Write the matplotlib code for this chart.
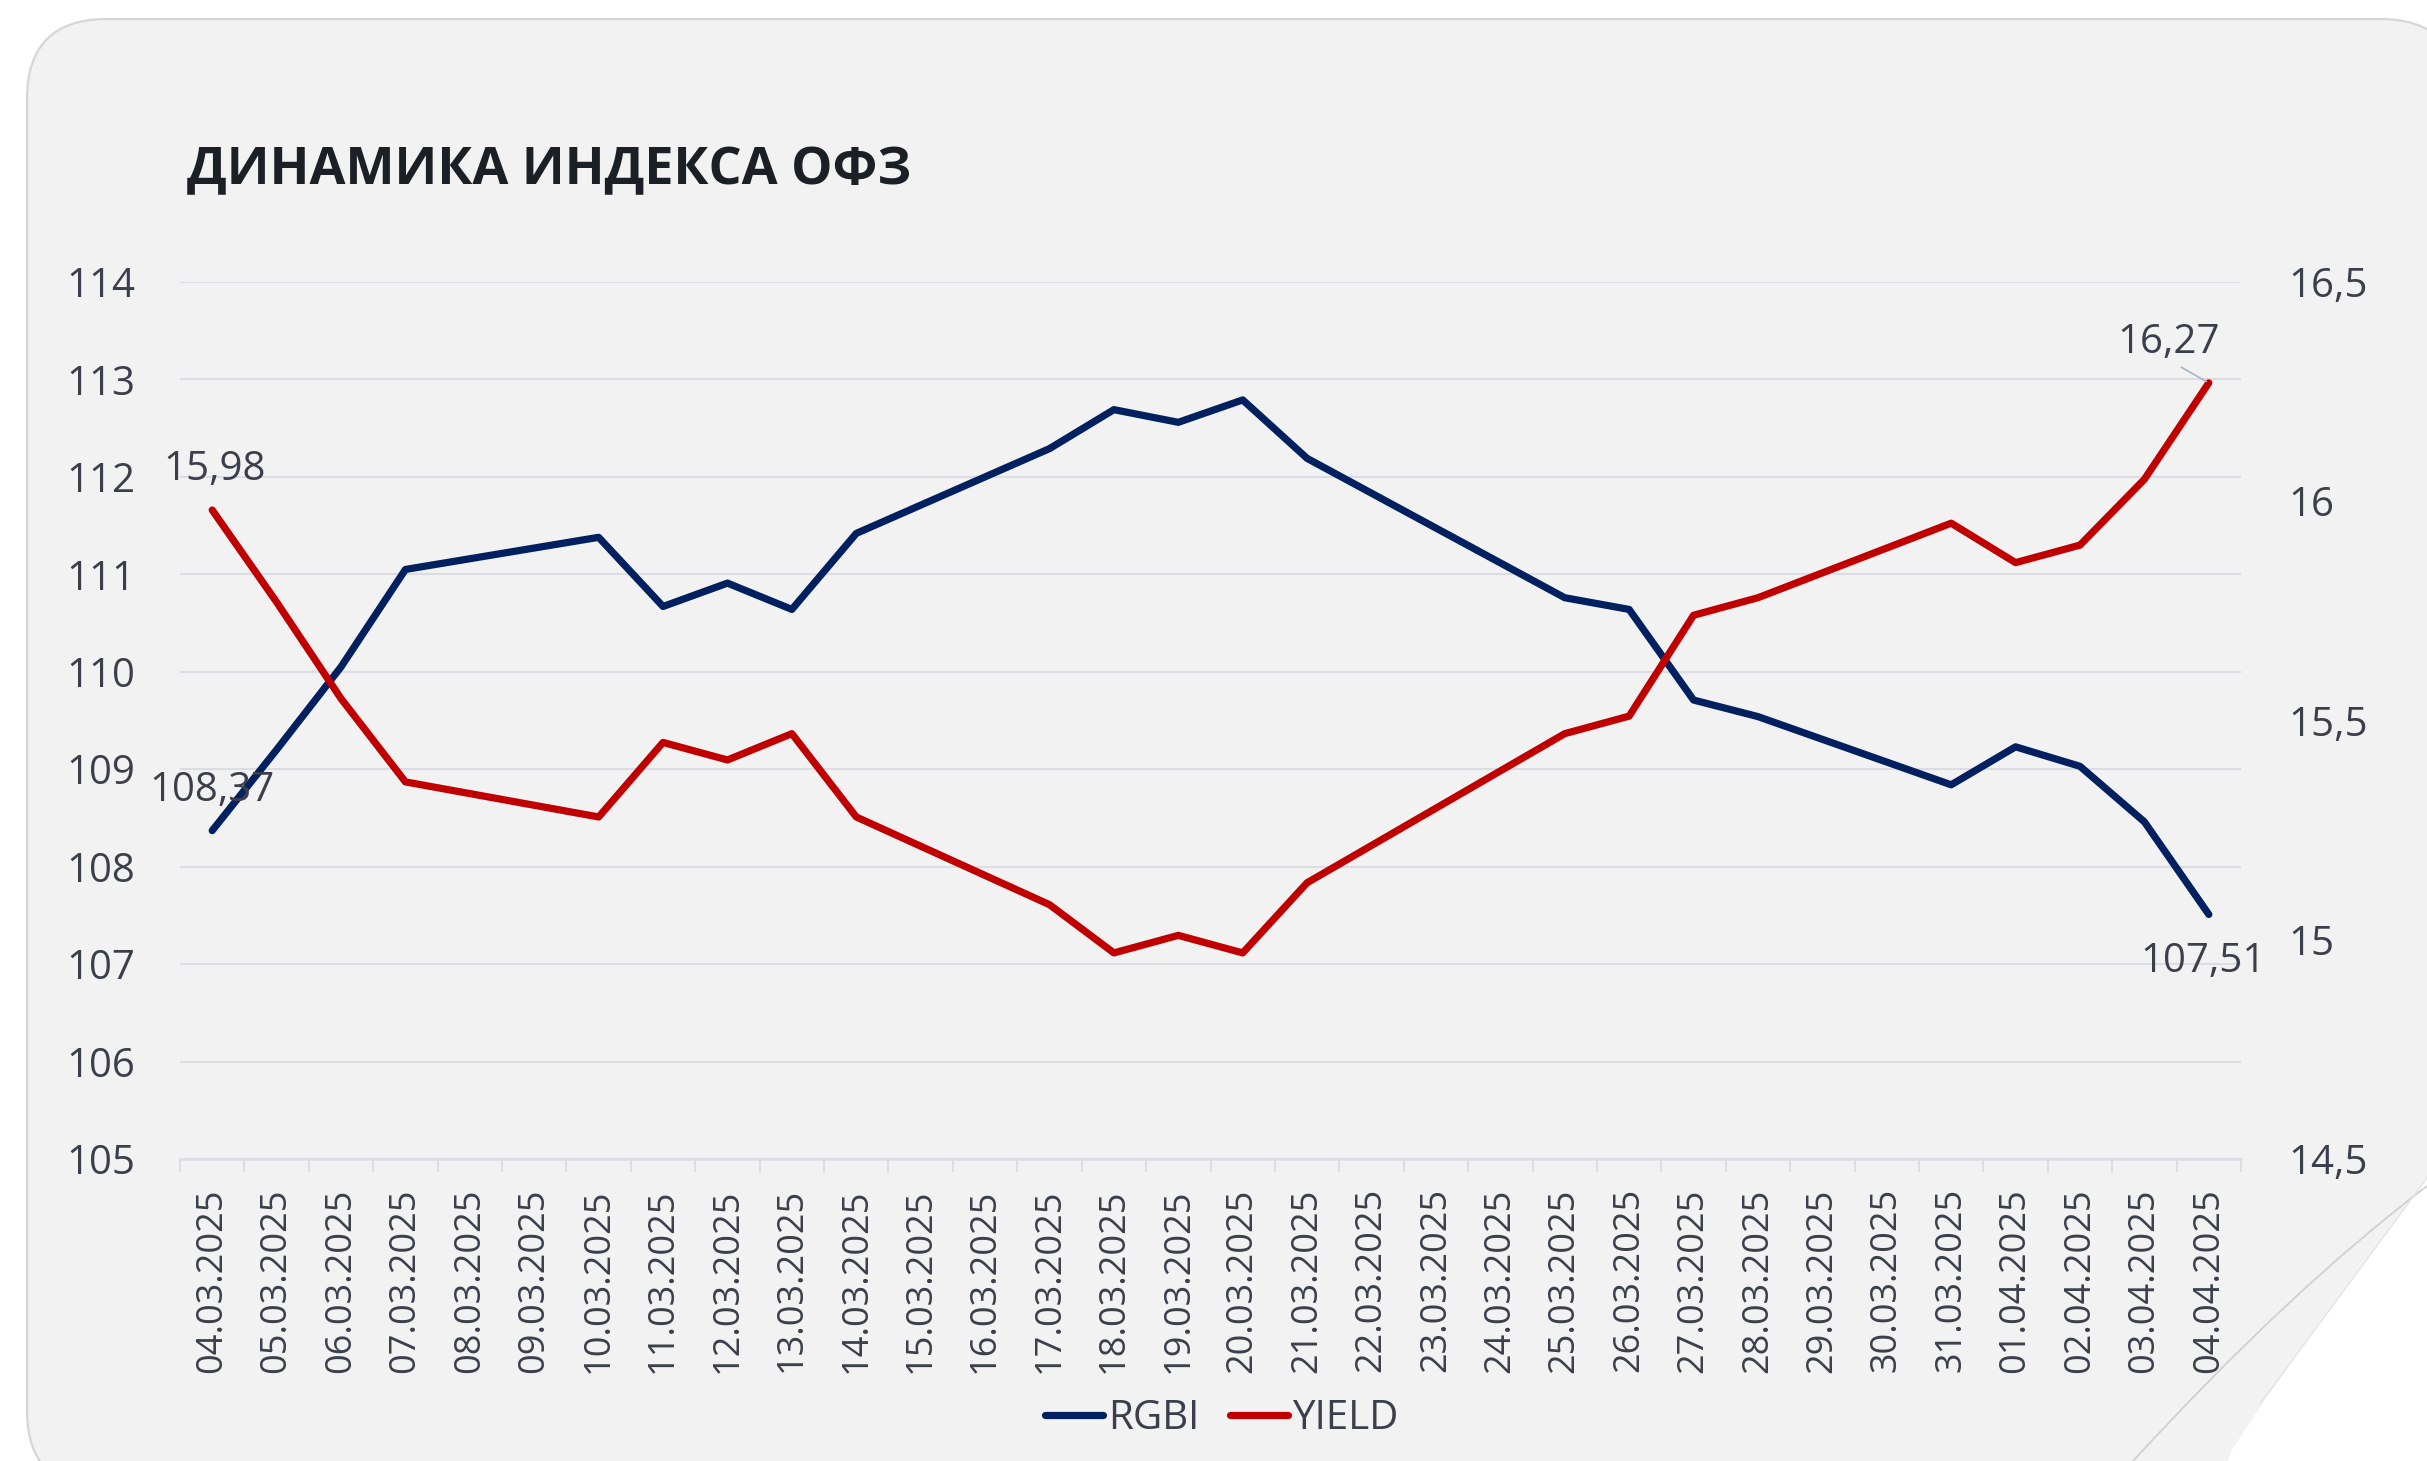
import matplotlib
matplotlib.use("Agg")
import matplotlib.pyplot as plt
from matplotlib.patches import FancyBboxPatch, Polygon, PathPatch
from matplotlib.path import Path
from matplotlib.ticker import FixedLocator, FuncFormatter
import numpy as np

plt.rcParams['font.family'] = ['Open Sans', 'DejaVu Sans']

# ---------------- data ----------------
dates = ["04.03.2025", "05.03.2025", "06.03.2025", "07.03.2025", "08.03.2025",
         "09.03.2025", "10.03.2025", "11.03.2025", "12.03.2025", "13.03.2025",
         "14.03.2025", "15.03.2025", "16.03.2025", "17.03.2025", "18.03.2025",
         "19.03.2025", "20.03.2025", "21.03.2025", "22.03.2025", "23.03.2025",
         "24.03.2025", "25.03.2025", "26.03.2025", "27.03.2025", "28.03.2025",
         "29.03.2025", "30.03.2025", "31.03.2025", "01.04.2025", "02.04.2025",
         "03.04.2025", "04.04.2025"]

rgbi = [108.37, 109.20, 110.05, 111.05, None, None, 111.38, 110.67, 110.91, 110.64,
        111.42, None, None, 112.29, 112.69, 112.56, 112.79, 112.19, None, None,
        None, 110.76, 110.64, 109.71, 109.54, None, None, 108.84, 109.23, 109.03,
        108.46, 107.51]

yield_ = [15.98, 15.77, 15.55, 15.36, None, None, 15.28, 15.45, 15.41, 15.47,
          15.28, None, None, 15.08, 14.97, 15.01, 14.97, 15.13, None, None,
          None, 15.47, 15.51, 15.74, 15.78, None, None, 15.95, 15.86, 15.90,
          16.05, 16.27]

left_ticks = [105, 106, 107, 108, 109, 110, 111, 112, 113, 114]
right_ticks = [14.5, 15.0, 15.5, 16.0, 16.5]
series_names = ["RGBI", "YIELD"]
title = "ДИНАМИКА ИНДЕКСА ОФЗ"

# ---------------- style ----------------
W, H = 2427, 1461
DPI = 100
BG = "#f2f2f2"
BORDER = "#d6d6d6"
GRID = "#dcdce4"
TXT = "#3a3f4b"
C_RGBI = "#002060"
C_YIELD = "#c00000"
TICK_FS = 29
DATE_FS = 26

fig = plt.figure(figsize=(W / DPI, H / DPI), dpi=DPI)
fig.patch.set_facecolor("white")

# background panel (pixel coordinates)
bg = fig.add_axes([0, 0, 1, 1], zorder=0)
bg.set_xlim(0, W)
bg.set_ylim(H, 0)
bg.axis("off")
panel = FancyBboxPatch((27, 19), 2460 - 27, 1490 - 19,
                       boxstyle="round,pad=0,rounding_size=80",
                       facecolor=BG, edgecolor=BORDER, linewidth=1.6)
bg.add_patch(panel)
# folded corner (bottom right)
bg.add_patch(Polygon([(2427, 1178), (2300, 1350), (2262, 1404), (2232, 1450),
                      (2224, 1470), (2440, 1470), (2440, 1178)],
                     closed=True, facecolor="white", edgecolor="none"))
bg.plot([2427, 2260], [1178, 1404], color="#e4e4e4", lw=1.0)
crease = Path([(2427, 1186), (2290, 1290), (2133, 1461)],
              [Path.MOVETO, Path.CURVE3, Path.CURVE3])
bg.add_patch(PathPatch(crease, facecolor="none", edgecolor="#d0d0d0", lw=1.3))

# main axes
l, r, t, b = 180, 2241, 282, 1159
ax = fig.add_axes([l / W, 1 - b / H, (r - l) / W, (b - t) / H], zorder=1)
ax.set_facecolor("none")
x = np.arange(len(dates))

def pts(vals):
    xs = [i for i, v in enumerate(vals) if v is not None]
    ys = [v for v in vals if v is not None]
    return xs, ys

xr, yr = pts(rgbi)
ln1, = ax.plot(xr, yr, color=C_RGBI, lw=5.2, solid_joinstyle="round",
               solid_capstyle="round", label=series_names[0], zorder=3)
ax.set_xlim(-0.5, len(dates) - 0.5)
ax.set_ylim(left_ticks[0], left_ticks[-1])
ax.set_yticks(left_ticks)
ax.yaxis.set_major_formatter(FuncFormatter(lambda v, p: f"{v:.0f}"))
ax.grid(axis="y", color=GRID, lw=1.5)
ax.set_axisbelow(True)
for s in ["top", "left", "right"]:
    ax.spines[s].set_visible(False)
ax.spines["bottom"].set_color(GRID)
ax.spines["bottom"].set_linewidth(1.8)
ax.tick_params(axis="y", length=0, pad=32, labelsize=TICK_FS, labelcolor=TXT)
ax.set_xticks(x)
ax.set_xticklabels(dates)
ax.tick_params(axis="x", which="major", length=0, pad=21, labelsize=DATE_FS,
               labelcolor=TXT, labelrotation=90)
ax.xaxis.set_minor_locator(FixedLocator(np.arange(-0.5, len(dates), 1.0)))
ax.tick_params(axis="x", which="minor", length=9.5, width=1.5, color=GRID,
               direction="out")

ax2 = ax.twinx()
ax2.set_zorder(2)
ax2.patch.set_visible(False)
xy, yy = pts(yield_)
ln2, = ax2.plot(xy, yy, color=C_YIELD, lw=5.2, solid_joinstyle="round",
                solid_capstyle="round", label=series_names[1], zorder=3)
ax2.set_ylim(right_ticks[0], right_ticks[-1])
ax2.set_yticks(right_ticks)
ax2.yaxis.set_major_formatter(FuncFormatter(lambda v, p: ("%g" % v).replace(".", ",")))
ax2.tick_params(axis="y", length=0, pad=34, labelsize=TICK_FS, labelcolor=TXT)
for s in ax2.spines.values():
    s.set_visible(False)

fmt = lambda v: f"{v:.2f}".replace(".", ",")
# data labels
ax.annotate(fmt(rgbi[0]), xy=(0, rgbi[0]), xytext=(0, 40), textcoords="offset pixels",
            ha="center", va="center", fontsize=TICK_FS, color=TXT, zorder=5)
ax.annotate(fmt(rgbi[-1]), xy=(len(dates) - 1, rgbi[-1]), xytext=(-6, -47),
            textcoords="offset pixels", ha="center", va="center",
            fontsize=TICK_FS, color=TXT, zorder=5)
ax2.annotate(fmt(yield_[0]), xy=(0, yield_[0]), xytext=(2, 40), textcoords="offset pixels",
             ha="center", va="center", fontsize=TICK_FS, color=TXT, zorder=5)
ax2.annotate(fmt(yield_[-1]), xy=(len(dates) - 1, yield_[-1]), xytext=(-40, 40),
             textcoords="offset pixels", ha="center", va="center",
             fontsize=TICK_FS, color=TXT, zorder=5,
             arrowprops=dict(arrowstyle="-", color="#aab4c3", lw=1.2,
                             relpos=(0.55, 0.0), shrinkA=2, shrinkB=2))

# title
fig.text(187 / W, 1 - 184 / H, title, fontsize=37.5, fontweight="bold",
         color="#1b1f26", ha="left", va="baseline")

# legend
fig.legend([ln1, ln2], series_names, loc="center",
           bbox_to_anchor=(1222 / W, 1 - 1419 / H), ncol=2, frameon=False,
           fontsize=TICK_FS, labelcolor=TXT, handlelength=1.45,
           handletextpad=0.12, columnspacing=0.75, borderpad=0, borderaxespad=0)

fig.savefig("out.png", dpi=DPI, facecolor="white")
